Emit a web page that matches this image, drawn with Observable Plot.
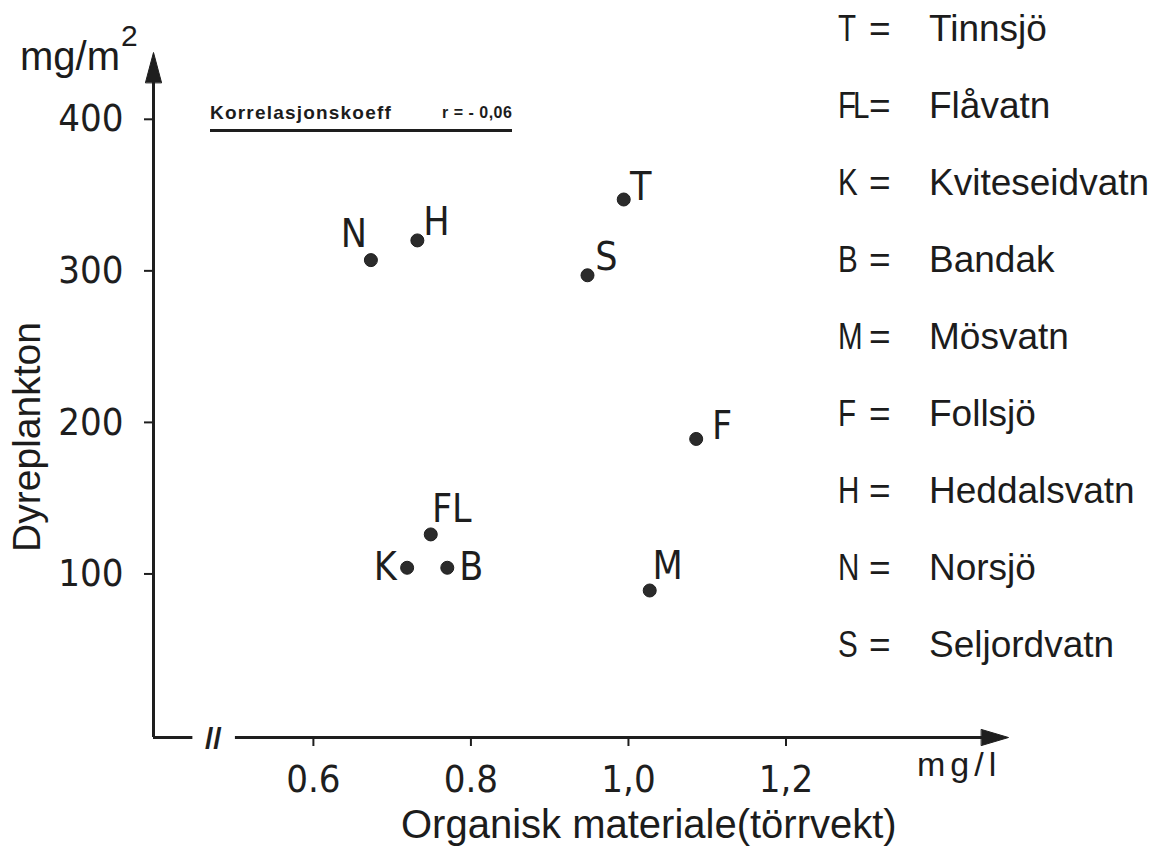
<!DOCTYPE html>
<html>
<head>
<meta charset="utf-8">
<script src="https://cdn.jsdelivr.net/npm/d3@7"></script>
<script src="https://cdn.jsdelivr.net/npm/@observablehq/plot@0.6"></script>
<style>
  html, body { margin: 0; padding: 0; background: #fff; }
  #wrap { position: relative; width: 1154px; height: 847px; overflow: hidden; color: #1c1c1c;
          font-family: "Liberation Sans", Arial, sans-serif; }
  #chart { position: absolute; left: 0; top: 0; }
  .ov { position: absolute; white-space: nowrap; line-height: 1; }
  #legend { position: absolute; left: 838px; top: 0; }
  .row { position: absolute; white-space: nowrap; font-size: 37px; line-height: 1; }
  .row .code { position: absolute; left: 0; display: inline-block; transform: scaleX(0.8); transform-origin: 0 0; }
  .row .code.two { letter-spacing: -4px; }
  .row .eq { position: absolute; left: 31px; }
  .row .name { position: absolute; left: 91px; }
  #note { position: absolute; left: 210px; top: 100px; width: 302px; height: 29px;
          border-bottom: 3px solid #1e1e1e; font-weight: bold; line-height: 1; }
  #note span { position: absolute; top: 3px; white-space: nowrap; }
</style>
</head>
<body>
<div id="wrap">
  <div id="chart"></div>
</div>
<script>
// ---- data ----
const codes = ["T", "FL", "K", "B", "M", "F", "H", "N", "S"];
const lakeNames = ["Tinnsjö", "Flåvatn", "Kviteseidvatn", "Bandak", "Mösvatn", "Follsjö", "Heddalsvatn", "Norsjö", "Seljordvatn"];
const organiskMateriale = [0.994, 0.749, 0.719, 0.770, 1.027, 1.086, 0.732, 0.673, 0.948]; // mg/l
const dyreplankton = [355, 134, 112, 112, 97, 197, 328, 315, 305];                        // mg/m2
const xTicks = [0.6, 0.8, 1.0, 1.2];
const xTickLabels = ["0.6", "0.8", "1,0", "1,2"];
const yTicks = [100, 200, 300, 400];
const correlationLabel = "Korrelasjonskoeff";
const correlationValue = "r = - 0,06";

// axis extents as drawn (with the break on the x axis)
const xAxisStart = 0.397, xAxisEnd = 1.4825;
const xBreakFrom = 0.447, xBreakTo = 0.501, xBreakMark = 0.473;
const yAxisEnd = 452;

// label placement around each dot (pixels)
const labelOffset = {
  T: [17, -12], FL: [21, -25], K: [-22, 0], B: [24, 0], M: [18, -24],
  F: [26, -12], H: [19, -18], N: [-17, -26], S: [19, -18]
};

const data = codes.map((c, i) => ({code: c, name: lakeNames[i], x: organiskMateriale[i], y: dyreplankton[i]}));

const ink = "#1e1e1e";
const narrow = "'Liberation Sans Narrow', 'DejaVu Sans Condensed', 'Liberation Sans', sans-serif";
const arrowHead = (hw) => ({
  draw(context, l) {
    context.moveTo(-hw, 0);
    context.lineTo(0, -l);
    context.lineTo(hw, 0);
    context.closePath();
  }
});

const chart = Plot.plot({
  width: 1154,
  height: 847,
  marginLeft: 153,
  marginRight: 146,
  marginTop: 52,
  marginBottom: 110,
  x: {domain: [xAxisStart, xAxisEnd]},
  y: {domain: [0, yAxisEnd]},
  style: {background: "white", color: ink, fontFamily: "'Liberation Sans', Arial, sans-serif"},
  marks: [
    // axes lines
    Plot.ruleX([xAxisStart], {y1: 0, y2: yAxisEnd - 5, stroke: ink, strokeWidth: 3}),
    Plot.ruleY([0], {x1: xAxisStart, x2: xBreakFrom, stroke: ink, strokeWidth: 3}),
    Plot.ruleY([0], {x1: xBreakTo, x2: xAxisEnd - 0.01, stroke: ink, strokeWidth: 3}),
    Plot.text(["//"], {x: xBreakMark, y: 0, text: d => d, fontSize: 30, fontWeight: "bold", fill: ink, dy: 2}),
    Plot.vector([yAxisEnd], {x: xAxisStart, y: d => d, length: 30, rotate: 0, anchor: "end",
      shape: arrowHead(8), fill: ink, stroke: ink, strokeWidth: 1}),
    Plot.vector([xAxisEnd], {x: d => d, y: 0, length: 27, rotate: 90, anchor: "end",
      shape: arrowHead(8), fill: ink, stroke: ink, strokeWidth: 1}),
    // ticks and tick labels
    Plot.axisX(xTicks, {tickSize: 9, tickPadding: 19, strokeWidth: 2, fontSize: 38,
      fontFamily: narrow, tickFormat: (d, i) => xTickLabels[i], label: null}),
    Plot.axisY(yTicks, {tickSize: 9, tickPadding: 21, strokeWidth: 2, fontSize: 38,
      fontFamily: narrow, dy: -12, label: null}),
    // data
    Plot.dot(data, {x: "x", y: "y", r: 6.5, fill: "#2b2b2b", stroke: ink, strokeWidth: 1}),
    ...data.map(d => Plot.text([d], {x: "x", y: "y", text: "code", fontSize: 39, fontFamily: narrow,
      fill: ink, dx: labelOffset[d.code][0], dy: labelOffset[d.code][1]}))
  ]
});
document.getElementById("chart").appendChild(chart);

// ---- text around the plot ----
const wrap = document.getElementById("wrap");
function addText(html, style) {
  const el = document.createElement("div");
  el.className = "ov";
  el.innerHTML = html;
  Object.assign(el.style, style);
  wrap.appendChild(el);
  return el;
}
addText('mg/m<span style="font-size:30px;position:relative;top:-24px;left:1px">2</span>',
  {left: "20px", top: "36px", fontSize: "40px"});
addText("mg/l", {left: "917px", top: "747px", fontSize: "34px", letterSpacing: "5px"});
addText("Organisk materiale(törrvekt)", {left: "401px", top: "804px", fontSize: "40px"});
addText("Dyreplankton", {left: "26px", top: "437px", fontSize: "39px",
  transform: "translate(-50%, -50%) rotate(-90deg)", transformOrigin: "center"});

const note = document.createElement("div");
note.id = "note";
note.innerHTML = `<span style="left:0;font-size:19px;letter-spacing:1.2px">${correlationLabel}</span>` +
  `<span style="left:232px;top:5px;font-size:16px;letter-spacing:0.5px">${correlationValue}</span>`;
wrap.appendChild(note);

// legend
const legend = document.createElement("div");
legend.id = "legend";
codes.forEach((c, i) => {
  const row = document.createElement("div");
  row.className = "row";
  row.style.top = (10 + 77 * i) + "px";
  row.innerHTML = `<span class="code${c.length > 1 ? " two" : ""}">${c}</span><span class="eq">=</span><span class="name">${lakeNames[i]}</span>`;
  legend.appendChild(row);
});
wrap.appendChild(legend);
</script>
</body>
</html>
